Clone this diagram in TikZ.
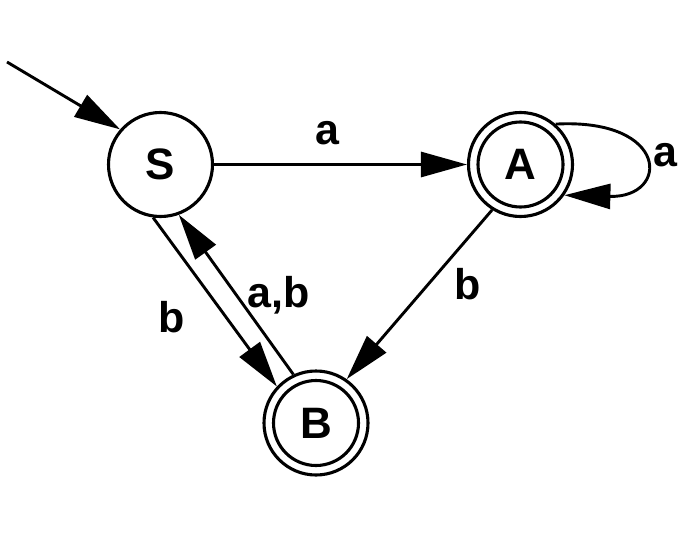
\documentclass[tikz,border=0pt]{standalone}
\usepackage{fontspec}
\setmainfont{Liberation Sans}
\usetikzlibrary{arrows.meta}
\tikzset{
  state/.style={draw, circle, line width=3.1pt, minimum size=104pt, inner sep=0pt,
    font=\fontsize{44}{44}\selectfont\bfseries},
  accept/.style={state},
  tr/.style={line width=2.9pt, -{Triangle[length=46pt,width=25pt]}},
  lbl/.style={anchor=base, inner sep=0pt, font=\fontsize{43}{43}\selectfont\bfseries},
}
\begin{document}
\begin{tikzpicture}[x=1pt,y=-1pt]
\useasboundingbox (0,0) rectangle (700,548);
\node[state] (S) at (160.5,164.5) {S};
\node[accept] (A) at (520.5,164.5) {A};
\node[accept] (B) at (316,423) {B};
\draw[line width=3.1pt] (A.center) circle (42.5pt);
\draw[line width=3.1pt] (B.center) circle (42.5pt);
\coordinate (start) at (7,62);
\draw[tr] (start) -- (S.139);
\draw[tr] (S) -- (A);
\draw[tr] (A.49) .. controls (670,118) and (670,198) .. (A.-35);
\draw[tr] (A.-122) -- (B.55);
\draw[tr] (S.-98) -- (B.137);
\draw[tr] (B.115) -- (S.-70);
\node[lbl] (la) at (327,145) {a};
\node[lbl] (laa) at (665,166) {a};
\node[lbl] (lb) at (468,299) {b};
\node[lbl] (lb2) at (172,332) {b};
\node[lbl] (lab) at (279,307) {a,b};
\end{tikzpicture}
\end{document}
